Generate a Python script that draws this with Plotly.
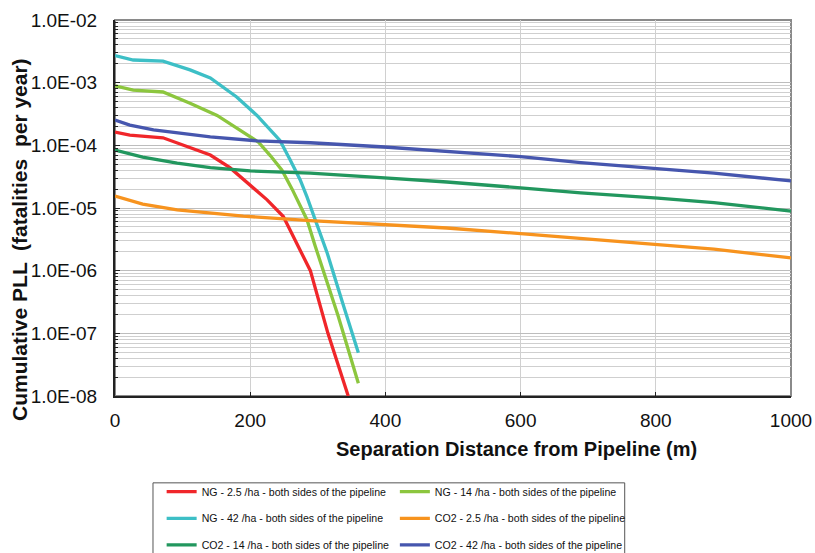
import plotly.graph_objects as go

# Separation distance (m) and cumulative PLL (fatalities per year) for each case
ng_25_x = [0, 22, 71, 111, 141, 170, 200, 225, 249, 264, 279, 289, 315, 345]
ng_25_y = [1.63e-4, 1.46e-4, 1.32e-4, 9.3e-5, 7.0e-5, 4.4e-5, 2.3e-5, 1.35e-5,
           7.3e-6, 3.5e-6, 1.66e-6, 1.0e-6, 1.0e-7, 1.0e-8]

ng_14_x = [0, 27, 71, 111, 151, 185, 212, 230, 247, 262, 273, 284, 296, 330, 360]
ng_14_y = [8.9e-4, 7.6e-4, 7.1e-4, 4.7e-4, 3.0e-4, 1.76e-4, 1.13e-4, 6.8e-5,
           4.0e-5, 2.0e-5, 1.1e-5, 6.5e-6, 2.5e-6, 1.9e-7, 1.6e-8]

ng_42_x = [0, 27, 71, 111, 141, 180, 210, 232, 244, 259, 274, 284, 296, 314, 337, 360]
ng_42_y = [2.7e-3, 2.3e-3, 2.2e-3, 1.6e-3, 1.19e-3, 5.9e-4, 3.0e-4, 1.7e-4,
           1.2e-4, 5.9e-5, 2.8e-5, 1.5e-5, 6.5e-6, 1.9e-6, 3.0e-7, 4.9e-8]

co2_25_x = [0, 41, 92, 141, 190, 289, 393, 491, 600, 689, 803, 886, 1000]
co2_25_y = [1.55e-5, 1.15e-5, 9.3e-6, 8.3e-6, 7.4e-6, 6.3e-6, 5.5e-6, 4.8e-6,
            3.9e-6, 3.3e-6, 2.6e-6, 2.2e-6, 1.6e-6]

co2_14_x = [0, 41, 92, 141, 200, 289, 393, 491, 600, 689, 803, 886, 1000]
co2_14_y = [8.4e-5, 6.5e-5, 5.2e-5, 4.4e-5, 3.9e-5, 3.6e-5, 3.05e-5, 2.6e-5,
            2.1e-5, 1.74e-5, 1.44e-5, 1.22e-5, 8.9e-6]

co2_42_x = [0, 22, 57, 141, 210, 289, 393, 491, 600, 689, 803, 886, 1000]
co2_42_y = [2.54e-4, 2.1e-4, 1.76e-4, 1.36e-4, 1.18e-4, 1.1e-4, 9.5e-5, 7.9e-5,
            6.6e-5, 5.3e-5, 4.3e-5, 3.6e-5, 2.7e-5]

y_tick_vals = [1e-8, 1e-7, 1e-6, 1e-5, 1e-4, 1e-3, 1e-2]
y_tick_text = ["1.0E-08", "1.0E-07", "1.0E-06", "1.0E-05", "1.0E-04", "1.0E-03", "1.0E-02"]
x_tick_vals = [0, 200, 400, 600, 800, 1000]

x_title = "Separation Distance from Pipeline (m)"
y_title = "Cumulative PLL  (fatalities  per year)"

series = [
    ("NG - 2.5 /ha - both sides of the pipeline", ng_25_x, ng_25_y, "#f0262a", "legend"),
    ("NG - 14 /ha - both sides of the pipeline", ng_14_x, ng_14_y, "#8cc63e", "legend2"),
    ("NG - 42 /ha - both sides of the pipeline", ng_42_x, ng_42_y, "#3dbfc6", "legend"),
    ("CO2 - 2.5 /ha - both sides of the pipeline", co2_25_x, co2_25_y, "#f7931e", "legend2"),
    ("CO2 - 14 /ha - both sides of the pipeline", co2_14_x, co2_14_y, "#22975e", "legend"),
    ("CO2 - 42 /ha - both sides of the pipeline", co2_42_x, co2_42_y, "#4656ae", "legend2"),
]

fig = go.Figure()
for i, (name, xs, ys, color, leg) in enumerate(series):
    fig.add_trace(go.Scatter(
        x=xs, y=ys, mode="lines", name=name,
        line=dict(color=color, width=3.3),
        legend=leg, legendgroup=f"g{i}",
    ))

leg_font = dict(family="Liberation Sans Narrow, Arial Narrow, Liberation Sans, sans-serif",
                size=10.6, color="#111")
legend_common = dict(
    orientation="v", xanchor="left", yanchor="top",
    bgcolor="rgba(0,0,0,0)", borderwidth=0, font=leg_font,
    tracegroupgap=7.6, itemwidth=30,
)

fig.update_layout(
    width=815, height=553,
    margin=dict(l=115, r=24, t=20, b=157, autoexpand=False),
    paper_bgcolor="white", plot_bgcolor="white",
    font=dict(family="Liberation Sans, Arial, sans-serif", color="#111"),
    showlegend=True,
    legend=dict(x=0.069, y=-0.216, **legend_common),
    legend2=dict(x=0.414, y=-0.216, **legend_common),
    shapes=[
        # plot frame
        dict(type="rect", xref="paper", yref="paper", x0=0, x1=1, y0=0, y1=1,
             line=dict(color="#8a8a8a", width=2), layer="below"),
        # legend box
        dict(type="rect", xref="paper", yref="paper", x0=0.0562, x1=0.754,
             y0=-0.45, y1=-0.231, line=dict(color="#555", width=1)),
    ],
    annotations=[
        # axis titles, centred on the chart area rather than the plot area
        dict(text=f"<b>{x_title}</b>", xref="paper", yref="paper",
             x=0.594, y=-0.141, xanchor="center", yanchor="middle",
             showarrow=False, font=dict(size=20, color="#111")),
        dict(text=f"<b>{y_title}</b>", xref="paper", yref="paper",
             x=0, xshift=-95, y=0.415, xanchor="center", yanchor="middle",
             textangle=-90, showarrow=False, font=dict(size=21, color="#111")),
    ],
)

fig.update_xaxes(
    range=[0, 1000], tickvals=x_tick_vals,
    showgrid=True, gridcolor="#d0d0d0", gridwidth=1,
    showline=True, linecolor="#222", linewidth=2,
    ticks="inside", ticklen=4, tickcolor="#222",
    tickfont=dict(size=19, color="#111"), ticklabelstandoff=6,
    zeroline=False,
)

fig.update_yaxes(
    type="log", range=[-8, -2],
    tickmode="array", tickvals=y_tick_vals, ticktext=y_tick_text,
    showgrid=True, gridcolor="#bdbdbd", gridwidth=1,
    minor=dict(tickmode="linear", dtick="D1", showgrid=True, gridcolor="#cfcfcf",
               gridwidth=1, ticks="inside", ticklen=3, tickcolor="#222"),
    showline=True, linecolor="#222", linewidth=2,
    ticks="inside", ticklen=5, tickcolor="#222",
    tickfont=dict(size=19, color="#111"), ticklabelstandoff=12,
    zeroline=False,
)

fig.write_html("out.html")
